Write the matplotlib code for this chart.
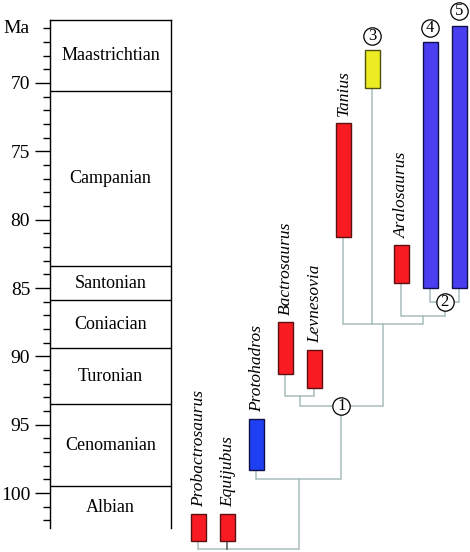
import matplotlib
matplotlib.use("Agg")
import matplotlib.pyplot as plt
from matplotlib.patches import Rectangle
from matplotlib.ticker import FixedLocator
import matplotlib.transforms as mtransforms

# ---------------- data ----------------
stage_names = ["Maastrichtian", "Campanian", "Santonian", "Coniacian",
               "Turonian", "Cenomanian", "Albian"]
stage_top = [65.4, 70.6, 83.4, 85.9, 89.4, 93.5, 99.5]
stage_base = [70.6, 83.4, 85.9, 89.4, 93.5, 99.5, 102.6]

major_ticks = [70, 75, 80, 85, 90, 95, 100]
minor_ticks = list(range(66, 103))

taxa = ["Probactrosaurus", "Equijubus", "Protohadros", "Bactrosaurus",
        "Levnesovia", "Tanius", "3", "Aralosaurus", "4", "5"]
oldest = [103.5, 103.5, 98.3, 91.3, 92.3, 81.3, 70.4, 84.6, 85.0, 85.0]
youngest = [101.5, 101.5, 94.6, 87.5, 89.5, 72.9, 67.6, 81.85, 67.0, 65.8]
fills = ["#f81c22", "#f81c22", "#1f3ff2", "#f81c22", "#f81c22", "#f81c22",
         "#ecec22", "#f81c22", "#4a3ff0", "#4a3ff0"]
edges = ["#5a1010", "#5a1010", "#10104a", "#5a1010", "#5a1010", "#5a1010",
         "#505010", "#5a1010", "#10104a", "#10104a"]
italic_label = [True, True, True, True, True, True, False, True, False, False]

# tree nodes: name -> (age, children)
nodes = {
    "root": (104.1, ["Probactrosaurus", "Equijubus", "A"]),
    "A": (99.0, ["Protohadros", "1"]),
    "1": (93.6, ["BL", "B"]),
    "BL": (92.9, ["Bactrosaurus", "Levnesovia"]),
    "B": (87.66, ["Tanius", "3", "C"]),
    "C": (87.03, ["Aralosaurus", "2"]),
    "2": (86.05, ["4", "5"]),
}
circled_nodes = ["1", "2"]
circled_taxa = ["3", "4", "5"]

# ---------------- layout ----------------
W, H = 470, 552
px_per_ma = 13.667
ref_ma, ref_px = 70.0, 83.0


def px2ma(p):
    return ref_ma + (p - ref_px) / px_per_ma


fig = plt.figure(figsize=(W / 100, H / 100), dpi=100)
plt.rcParams['font.family'] = ['Liberation Serif', 'DejaVu Serif']
FS = 13
FS_TICK = 14
FS_TAXON = 12.5

# stage column
s_top, s_bot, s_left, s_right = 20, 528, 50, 171
ax = fig.add_axes([s_left / W, 1 - s_bot / H, (s_right - s_left) / W, (s_bot - s_top) / H])
ax.set_ylim(px2ma(s_bot), px2ma(s_top))
ax.set_xlim(0, 1)
ax.set_xticks([])
ax.spines['bottom'].set_visible(False)
for sp in ax.spines.values():
    sp.set_linewidth(1.0)
ax.yaxis.set_major_locator(FixedLocator(major_ticks))
ax.yaxis.set_minor_locator(FixedLocator(minor_ticks))
ax.set_yticklabels([str(t) for t in major_ticks], fontsize=FS_TICK)
ax.tick_params(axis='y', which='major', length=10.8, width=1.0, pad=3.5, direction='out')
ax.tick_params(axis='y', which='minor', length=5.0, width=1.0, direction='out')
for name, t, b in zip(stage_names, stage_top, stage_base):
    if t > px2ma(s_top) + 0.01:
        ax.axhline(t, color='black', lw=1.0)
    lo = max(t, px2ma(s_top))
    hi = min(b, px2ma(s_bot))
    ax.text(0.5, (lo + hi) / 2, name, ha='center', va='center', fontsize=FS)
trans = mtransforms.blended_transform_factory(ax.transAxes, ax.transData)
ax.text(-0.17, 66, "Ma", ha='right', va='center', fontsize=FS_TICK, transform=trans)

# tree panel
t_left = 180
col0_px, col_px = 198.0, 29.0
tx = fig.add_axes([t_left / W, 0, (W - t_left) / W, 1])
tx.set_xlim((t_left - col0_px) / col_px, (W - col0_px) / col_px)
tx.set_ylim(px2ma(H), px2ma(0))
tx.axis('off')

xpos = {name: i for i, name in enumerate(taxa)}
ages_old = {name: oldest[i] for i, name in enumerate(taxa)}


def node_x(n):
    if n in xpos:
        return xpos[n]
    xs = [node_x(c) for c in nodes[n][1]]
    xpos[n] = (min(xs) + max(xs)) / 2
    return xpos[n]


for n in nodes:
    node_x(n)

LC = "#a9bdbd"
LW = 1.1
for n, (age, children) in nodes.items():
    cx = [xpos[c] for c in children]
    tx.plot([min(cx), max(cx)], [age, age], color=LC, lw=LW, zorder=1,
            solid_capstyle='butt')
    for c in children:
        start = ages_old[c] if c in ages_old else nodes[c][0]
        col = "#555555" if c == "Equijubus" else LC
        tx.plot([xpos[c], xpos[c]], [start, age], color=col, lw=LW, zorder=1)

bw = 15 / col_px
for i, name in enumerate(taxa):
    tx.add_patch(Rectangle((i - bw / 2, youngest[i]), bw, oldest[i] - youngest[i],
                           facecolor=fills[i], edgecolor=edges[i], lw=1.0, zorder=3))
    if italic_label[i]:
        tx.text(i + 0.03, youngest[i] - 0.5, name, rotation=90, ha='center', va='bottom',
                fontsize=FS_TAXON, style='italic', zorder=4)

for name in circled_taxa:
    i = taxa.index(name)
    cy = youngest[i] - 1.05
    tx.plot([i], [cy], 'o', ms=12.5, mfc='white', mec='black', mew=0.9, zorder=5)
    tx.text(i, cy, name, ha='center', va='center', fontsize=12, zorder=6)

for n in circled_nodes:
    cy = nodes[n][0]
    tx.plot([xpos[n]], [cy], 'o', ms=12.5, mfc='white', mec='black', mew=0.9, zorder=5)
    tx.text(xpos[n], cy, n, ha='center', va='center', fontsize=12, zorder=6)

fig.savefig("out.png", dpi=100)
